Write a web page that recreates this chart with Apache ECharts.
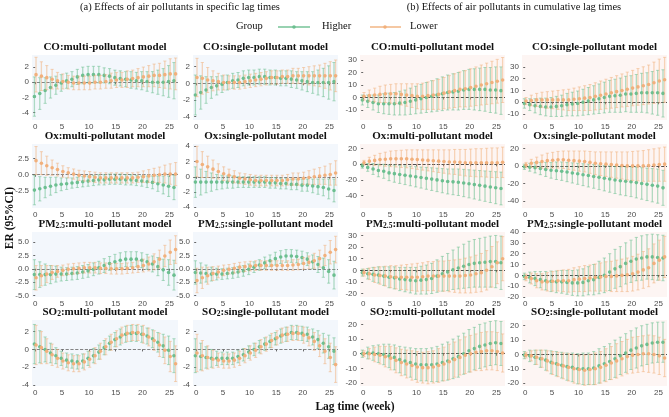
<!DOCTYPE html>
<html>
<head>
<meta charset="utf-8">
<script src="https://cdn.jsdelivr.net/npm/echarts@6/dist/echarts.min.js"></script>
<style>
  html, body { margin: 0; padding: 0; background: #fff; }
  #chart { width: 669px; height: 417px; }
</style>
</head>
<body>
<div id="chart"></div>
<script>
const lags = [0, 1, 2, 3, 4, 5, 6, 7, 8, 9, 10, 11, 12, 13, 14, 15, 16, 17, 18, 19, 20, 21, 22, 23, 24, 25, 26];
const groups = ['Higher', 'Lower'];

// ---- CO, specific lags ----
const coMultiSpecHigher    = [-1.9, -1.5, -1.1, -0.7, -0.4, -0.1, 0.2, 0.4, 0.7, 0.9, 1.0, 1.0, 1.0, 0.9, 0.8, 0.6, 0.5, 0.4, 0.3, 0.2, 0.2, 0.1, 0.0, 0.0, 0.0, 0.1, 0.2];
const coMultiSpecHigherErr = [2.6, 2.1, 1.7, 1.4, 1.2, 1.1, 1.0, 1.0, 1.0, 1.1, 1.1, 1.1, 1.1, 1.0, 1.0, 1.0, 1.0, 1.0, 1.1, 1.1, 1.2, 1.3, 1.4, 1.6, 1.8, 2.1, 2.4];
const coMultiSpecLower     = [1.0, 0.8, 0.6, 0.4, 0.2, 0.1, 0.0, -0.1, -0.1, -0.1, -0.1, 0.0, 0.0, 0.1, 0.2, 0.3, 0.3, 0.4, 0.5, 0.6, 0.7, 0.8, 0.9, 0.9, 1.0, 1.1, 1.1];
const coMultiSpecLowerErr  = [2.3, 1.9, 1.6, 1.3, 1.1, 1.0, 0.9, 0.9, 0.9, 0.9, 0.9, 0.9, 0.9, 0.9, 1.0, 1.0, 1.0, 1.1, 1.1, 1.2, 1.3, 1.4, 1.5, 1.6, 1.8, 2.0, 2.1];

const coSingleSpecHigher    = [-1.4, -1.1, -0.8, -0.5, -0.3, -0.1, 0.1, 0.3, 0.4, 0.6, 0.7, 0.7, 0.8, 0.8, 0.7, 0.7, 0.6, 0.6, 0.5, 0.4, 0.3, 0.2, 0.1, 0.1, 0.1, 0.1, 0.2];
const coSingleSpecHigherErr = [2.4, 2.0, 1.6, 1.3, 1.1, 1.0, 0.9, 0.9, 0.9, 0.9, 0.9, 0.9, 0.9, 0.9, 0.9, 0.9, 0.9, 0.9, 1.0, 1.0, 1.1, 1.2, 1.3, 1.5, 1.7, 2.0, 2.3];
const coSingleSpecLower     = [0.7, 0.6, 0.4, 0.3, 0.2, 0.1, 0.1, 0.1, 0.1, 0.2, 0.3, 0.4, 0.5, 0.6, 0.7, 0.7, 0.8, 0.8, 0.9, 0.9, 0.9, 0.9, 0.9, 0.9, 0.9, 0.9, 0.9];
const coSingleSpecLowerErr  = [2.3, 1.9, 1.5, 1.2, 1.0, 0.9, 0.8, 0.8, 0.8, 0.8, 0.8, 0.8, 0.8, 0.8, 0.8, 0.8, 0.8, 0.8, 0.9, 0.9, 1.0, 1.1, 1.2, 1.3, 1.5, 1.7, 1.9];

// ---- CO, cumulative lags ----
const coMultiCumHigher    = [-2, -3, -4, -5, -5, -5, -5, -4.5, -4, -3, -2, -1, 0, 1, 2, 3, 4, 4.5, 5, 6, 6.5, 6.5, 6.5, 6.5, 6, 6, 5.5];
const coMultiCumHigherErr = [4, 5, 6, 7, 8, 8.5, 9, 9.5, 10, 10.5, 11, 11.5, 12, 12.5, 13, 13.5, 14, 14.5, 15, 15.5, 16, 16.5, 17, 17.5, 18, 18.5, 19];
const coMultiCumLower     = [1, 1.5, 2, 2.5, 3, 3, 3, 2.5, 2, 1.5, 1, 1, 1.5, 2, 2.5, 3.5, 4.5, 5.5, 6.5, 7, 8, 9, 10, 11, 12, 13, 14];
const coMultiCumLowerErr  = [3, 4.5, 5.5, 6.5, 7, 7.5, 8, 8.5, 9, 9.5, 10, 10.5, 11, 11.5, 12, 12.5, 13, 13.5, 14, 14.5, 15, 15.5, 16, 16.5, 17, 17.5, 18];

const coSingleCumHigher    = [-1, -2, -3, -3.5, -4, -4, -3.5, -3, -2, -1.5, -1, 0, 1, 2, 3, 4, 5, 5.5, 6, 7, 7, 7.5, 8, 8, 8, 8, 7.5];
const coSingleCumHigherErr = [4, 5, 6, 7, 7.5, 8, 8.5, 9, 9.5, 10, 10.5, 11, 11.5, 12, 12.5, 13, 13.5, 14, 14.5, 15, 15.5, 16, 16.5, 17, 18, 19, 20];
const coSingleCumLower     = [1, 1.5, 2, 2, 2, 2, 2, 2, 2, 2.5, 3, 3.5, 4, 5, 6, 7, 8, 9, 10, 11, 12, 13, 14, 15, 16.5, 18, 19];
const coSingleCumLowerErr  = [3, 4.5, 5.5, 6.5, 7, 7.5, 8, 8.5, 9, 9.5, 10, 10.5, 11, 11.5, 12, 12.5, 13, 13.5, 14, 14.5, 15, 15.5, 16, 16.5, 17.5, 18.5, 19];

// ---- Ox, specific lags ----
const oxMultiSpecHigher    = [-2.4, -2.2, -2.0, -1.8, -1.6, -1.5, -1.4, -1.3, -1.2, -1.1, -1.0, -0.9, -0.8, -0.8, -0.7, -0.7, -0.7, -0.8, -0.8, -0.9, -1.0, -1.1, -1.2, -1.4, -1.6, -1.8, -2.0];
const oxMultiSpecHigherErr = [2.3, 1.9, 1.6, 1.4, 1.2, 1.0, 0.9, 0.8, 0.8, 0.8, 0.8, 0.8, 0.8, 0.8, 0.8, 0.8, 0.8, 0.8, 0.8, 0.8, 0.8, 0.9, 1.0, 1.2, 1.4, 1.6, 1.9];
const oxMultiSpecLower     = [2.2, 1.8, 1.4, 1.1, 0.8, 0.5, 0.3, 0.1, -0.1, -0.2, -0.3, -0.4, -0.5, -0.5, -0.5, -0.5, -0.5, -0.5, -0.5, -0.4, -0.3, -0.2, -0.1, 0.0, 0.1, 0.1, 0.1];
const oxMultiSpecLowerErr  = [2.2, 1.8, 1.5, 1.2, 1.0, 0.9, 0.8, 0.8, 0.8, 0.8, 0.8, 0.8, 0.8, 0.8, 0.8, 0.8, 0.8, 0.8, 0.8, 0.8, 0.9, 1.0, 1.1, 1.2, 1.4, 1.6, 1.8];

const oxSingleSpecHigher    = [-0.7, -0.7, -0.7, -0.7, -0.7, -0.7, -0.7, -0.7, -0.7, -0.7, -0.7, -0.7, -0.7, -0.7, -0.8, -0.8, -0.9, -0.9, -1.0, -1.0, -1.1, -1.1, -1.2, -1.3, -1.4, -1.6, -1.8];
const oxSingleSpecHigherErr = [2.0, 1.7, 1.4, 1.2, 1.0, 0.9, 0.8, 0.8, 0.7, 0.7, 0.7, 0.7, 0.7, 0.7, 0.7, 0.7, 0.7, 0.7, 0.7, 0.7, 0.8, 0.8, 0.9, 1.0, 1.1, 1.3, 1.5];
const oxSingleSpecLower     = [2.0, 1.6, 1.3, 1.0, 0.7, 0.4, 0.2, 0.0, -0.2, -0.3, -0.4, -0.5, -0.5, -0.5, -0.5, -0.5, -0.5, -0.4, -0.3, -0.3, -0.2, -0.1, 0.0, 0.1, 0.2, 0.3, 0.5];
const oxSingleSpecLowerErr  = [2.0, 1.7, 1.4, 1.2, 1.0, 0.9, 0.8, 0.8, 0.7, 0.7, 0.7, 0.7, 0.7, 0.7, 0.7, 0.7, 0.7, 0.7, 0.8, 0.8, 0.8, 0.9, 1.0, 1.1, 1.2, 1.4, 1.6];

// ---- Ox, cumulative lags ----
const oxMultiCumHigher    = [-2, -4, -6, -8, -9, -11, -12, -13, -14, -15, -16, -17, -18, -19, -20, -21, -22, -22.5, -23, -24, -25, -26, -27, -28, -29, -30, -31];
const oxMultiCumHigherErr = [3, 5, 7, 8, 9, 10, 11, 11.5, 12, 12.5, 13, 13.5, 14, 14.5, 15, 15.5, 16, 16.5, 17, 17.5, 18, 18.5, 19, 19.5, 20, 20.5, 21];
const oxMultiCumLower     = [2, 4, 5, 6, 6.5, 7, 7, 7, 7, 6.5, 6, 5.5, 5, 4.5, 4, 3.5, 3, 3, 2.5, 2, 2, 2, 2, 2, 2, 2, 2.5];
const oxMultiCumLowerErr  = [3, 5, 6.5, 8, 9, 10, 10.5, 11, 11.5, 12, 12.5, 13, 13.5, 14, 14.5, 15, 15.5, 16, 16.5, 17, 17.5, 18, 18, 18.5, 19, 19, 19.5];

const oxSingleCumHigher    = [-1, -1.5, -2, -3, -4, -5, -5.5, -6, -7, -8, -9, -10, -11, -12, -13, -14, -15, -16, -17, -17.5, -18, -19, -20, -21, -22, -23, -25];
const oxSingleCumHigherErr = [3, 4.5, 6, 7, 8, 9, 10, 10.5, 11, 11.5, 12, 12.5, 13, 13.5, 14, 14.5, 15, 15.5, 16, 16.5, 17, 17.5, 18, 18.5, 19, 19.5, 20];
const oxSingleCumLower     = [1, 3, 4, 5, 6, 6.5, 7, 7, 6.5, 6, 5.5, 5, 4, 3, 2.5, 2, 1.5, 1, 0.5, 0, 0, 0, 0, 0.5, 1, 1.5, 2];
const oxSingleCumLowerErr  = [3, 4.5, 6, 7.5, 8.5, 9, 9.5, 10, 10.5, 11, 11.5, 12, 12.5, 13, 13.5, 14, 14.5, 15, 15.5, 16, 16.5, 17, 17.5, 18, 18.5, 19, 19.5];

// ---- PM2.5, specific lags ----
const pmMultiSpecHigher    = [-1.1, -1.1, -1.1, -1.1, -1.0, -1.0, -1.0, -0.9, -0.8, -0.6, -0.4, -0.1, 0.2, 0.6, 1.0, 1.3, 1.6, 1.8, 1.8, 1.8, 1.6, 1.3, 0.9, 0.4, -0.2, -0.7, -1.2];
const pmMultiSpecHigherErr = [2.8, 2.4, 2.0, 1.7, 1.5, 1.3, 1.2, 1.2, 1.2, 1.2, 1.2, 1.2, 1.2, 1.3, 1.3, 1.4, 1.4, 1.4, 1.4, 1.4, 1.4, 1.4, 1.5, 1.7, 2.0, 2.4, 2.8];
const pmMultiSpecLower     = [-1.7, -1.3, -1.0, -0.7, -0.5, -0.3, -0.1, 0.0, 0.1, 0.2, 0.2, 0.2, 0.1, 0.1, 0.0, 0.0, 0.0, 0.1, 0.2, 0.4, 0.6, 0.9, 1.3, 1.8, 2.4, 3.1, 3.6];
const pmMultiSpecLowerErr  = [2.3, 1.9, 1.6, 1.3, 1.1, 1.0, 1.0, 1.0, 1.0, 1.0, 1.0, 1.0, 1.0, 1.0, 1.0, 1.0, 1.0, 1.0, 1.0, 1.1, 1.2, 1.3, 1.5, 1.7, 2.0, 2.3, 2.6];

const pmSingleSpecHigher    = [-0.7, -0.8, -0.9, -1.0, -1.0, -1.0, -0.9, -0.8, -0.6, -0.4, -0.1, 0.3, 0.7, 1.1, 1.5, 1.9, 2.2, 2.4, 2.4, 2.3, 2.1, 1.8, 1.3, 0.8, 0.2, -0.5, -1.2];
const pmSingleSpecHigherErr = [2.2, 1.9, 1.6, 1.3, 1.1, 1.0, 1.0, 1.0, 1.0, 1.0, 1.0, 1.0, 1.0, 1.1, 1.1, 1.2, 1.2, 1.2, 1.2, 1.2, 1.2, 1.2, 1.3, 1.5, 1.8, 2.2, 2.6];
const pmSingleSpecLower     = [-2.2, -1.7, -1.3, -0.9, -0.6, -0.3, -0.1, 0.1, 0.3, 0.4, 0.5, 0.6, 0.6, 0.6, 0.6, 0.6, 0.6, 0.6, 0.7, 0.8, 1.0, 1.2, 1.5, 1.9, 2.5, 3.1, 3.6];
const pmSingleSpecLowerErr  = [2.3, 2.0, 1.6, 1.3, 1.1, 1.0, 0.9, 0.9, 0.9, 0.9, 0.9, 0.9, 0.9, 0.9, 0.9, 0.9, 0.9, 0.9, 1.0, 1.0, 1.1, 1.2, 1.4, 1.6, 1.9, 2.2, 2.5];

// ---- PM2.5, cumulative lags ----
const pmMultiCumHigher    = [-2, -3, -3.5, -4, -5, -6, -6.5, -7.5, -8, -8.5, -9, -8.5, -8, -7, -5, -3, -1.5, 0.5, 2, 3.5, 5, 6, 6.5, 7, 7.5, 7.5, 6.5];
const pmMultiCumHigherErr = [3, 4.5, 6, 7, 8, 9, 9.5, 10, 10.5, 11, 11.5, 12, 12.5, 13, 14, 15, 16, 17, 18, 19, 20, 20.5, 21, 21.5, 22, 22.5, 23];
const pmMultiCumLower     = [-2, -3, -4, -4.5, -5, -5.5, -6, -6, -6, -6, -6, -5.5, -5, -5, -5, -5, -5, -5, -5, -4.5, -4, -3, -2, 0, 3, 6.5, 10];
const pmMultiCumLowerErr  = [3, 5, 6.5, 7.5, 8.5, 9.5, 10, 10.5, 11, 11.5, 12, 12, 12.5, 12.5, 13, 13, 13.5, 14, 14.5, 15, 15.5, 16, 16.5, 17, 17.5, 18, 19];

const pmSingleCumHigher    = [-1, -2, -3, -4, -5, -5.5, -6, -6, -6.5, -7, -7, -6.5, -5, -4, -2, 0, 3, 6, 8, 11, 13, 15, 16, 17, 17, 16.5, 16];
const pmSingleCumHigherErr = [3, 5, 6.5, 7.5, 8.5, 9.5, 10, 10.5, 11, 11.5, 12, 12.5, 13, 14, 15, 16, 17, 18, 18.5, 19, 19.5, 20, 20.5, 20.5, 21, 21, 21];
const pmSingleCumLower     = [-2, -3, -5, -6, -6, -5.5, -5, -5, -5, -4, -3.5, -3, -2.5, -2, -1.5, -1, -1, -0.5, 0, 0.5, 1.5, 3, 5, 7, 11, 14, 17];
const pmSingleCumLowerErr  = [3, 5, 6.5, 7.5, 8.5, 9, 9.5, 10, 10.5, 11, 11.5, 12, 12, 12.5, 13, 13.5, 14, 14.5, 15, 15.5, 16, 16.5, 17, 17.5, 18, 18.5, 19];

// ---- SO2, specific lags ----
const so2MultiSpecHigher    = [0.6, 0.3, 0.0, -0.4, -0.7, -1.0, -1.2, -1.3, -1.4, -1.3, -1.0, -0.7, -0.3, 0.2, 0.7, 1.1, 1.4, 1.7, 1.8, 1.8, 1.7, 1.5, 1.2, 0.8, 0.4, -0.1, -0.7];
const so2MultiSpecHigherErr = [2.2, 1.8, 1.4, 1.1, 0.9, 0.8, 0.8, 0.8, 0.8, 0.8, 0.8, 0.8, 0.8, 0.8, 0.8, 0.8, 0.9, 0.9, 0.9, 0.9, 0.9, 0.9, 1.0, 1.1, 1.3, 1.6, 1.9];
const so2MultiSpecLower     = [0.5, 0.2, -0.2, -0.6, -1.0, -1.3, -1.5, -1.6, -1.6, -1.4, -1.1, -0.7, -0.2, 0.3, 0.8, 1.2, 1.6, 1.8, 1.9, 1.9, 1.7, 1.4, 1.0, 0.5, -0.1, -0.8, -1.6];
const so2MultiSpecLowerErr  = [2.2, 1.8, 1.4, 1.2, 1.0, 0.9, 0.9, 0.9, 0.9, 0.9, 0.9, 0.9, 0.9, 0.9, 0.9, 0.9, 0.9, 0.9, 0.9, 0.9, 1.0, 1.0, 1.1, 1.3, 1.5, 1.7, 2.0];

const so2SingleSpecHigher    = [-0.7, -0.8, -0.9, -1.0, -1.0, -1.0, -1.0, -1.0, -0.8, -0.6, -0.3, 0.0, 0.3, 0.6, 0.9, 1.2, 1.5, 1.7, 1.9, 1.9, 1.8, 1.7, 1.4, 1.1, 0.7, 0.3, -0.2];
const so2SingleSpecHigherErr = [1.9, 1.5, 1.2, 1.0, 0.8, 0.7, 0.7, 0.7, 0.7, 0.7, 0.7, 0.7, 0.7, 0.7, 0.7, 0.7, 0.8, 0.8, 0.8, 0.8, 0.8, 0.8, 0.9, 1.0, 1.1, 1.3, 1.5];
const so2SingleSpecLower     = [-0.4, -0.7, -0.9, -1.1, -1.2, -1.3, -1.3, -1.2, -1.0, -0.7, -0.4, -0.1, 0.3, 0.6, 1.0, 1.3, 1.6, 1.7, 1.8, 1.8, 1.6, 1.3, 0.9, 0.4, -0.2, -0.9, -1.7];
const so2SingleSpecLowerErr  = [2.1, 1.7, 1.3, 1.0, 0.8, 0.8, 0.8, 0.8, 0.8, 0.8, 0.8, 0.8, 0.8, 0.8, 0.8, 0.8, 0.8, 0.8, 0.8, 0.8, 0.9, 0.9, 1.0, 1.2, 1.4, 1.6, 2.0];

// ---- SO2, cumulative lags ----
const so2MultiCumHigher    = [0, 0.5, 0.5, 0, -0.5, -1.5, -2.5, -4, -5, -6, -7, -7.5, -7.5, -7.5, -7, -6, -5, -3.5, -2, 0, 2, 3.5, 5, 6, 7, 7.5, 7];
const so2MultiCumHigherErr = [2.5, 4, 5, 6, 7, 8, 8.5, 9, 9.5, 10, 10.5, 11, 11, 11.5, 12, 12.5, 13, 13.5, 14, 14, 14.5, 14.5, 15, 15, 15, 15, 15];
const so2MultiCumLower     = [0, 0, -0.5, -1, -2, -3, -4.5, -6, -7, -8, -9, -9.5, -9.5, -9, -8, -7, -5.5, -4, -2.5, -1, 0, 1, 1.5, 2, 2, 1.5, 0.5];
const so2MultiCumLowerErr  = [2, 3.5, 5, 6, 7, 8, 8.5, 9, 9.5, 10, 10.5, 10.5, 11, 11, 11.5, 11.5, 12, 12, 12, 12.5, 12.5, 12.5, 13, 13, 13, 13, 13];

const so2SingleCumHigher    = [-0.5, -1, -2, -3, -4, -5.5, -6.5, -7.5, -8.5, -9, -10, -10, -10, -9.5, -8, -6.5, -5, -3, -1, 1, 3, 4.5, 6, 7, 8, 8.5, 8.5];
const so2SingleCumHigherErr = [2.5, 4, 5, 6, 7, 8, 8.5, 9, 9.5, 10, 10.5, 11, 11, 11.5, 12, 12, 12.5, 13, 13, 13.5, 13.5, 14, 14, 14, 14, 14, 14];
const so2SingleCumLower     = [-0.5, -1, -2, -3, -4.5, -6, -7, -8, -9, -10, -10.5, -11, -10.5, -10, -9, -7.5, -6, -4.5, -3, -1.5, -0.5, 0, 0.5, 0.5, 0, -1, -2.5];
const so2SingleCumLowerErr  = [2, 3.5, 5, 6, 7, 8, 8.5, 9, 9.5, 10, 10, 10.5, 10.5, 11, 11, 11.5, 11.5, 12, 12, 12, 12.5, 12.5, 12.5, 13, 13, 13, 13];

// tick labels
const xTicks = [0, 5, 10, 15, 20, 25];
const coSpecTicks = [-4, -2, 0, 2];
const coCumTicks = [-10, 0, 10, 20, 30];
const oxMultiSpecTicks = [-2.5, 0, 2.5];
const oxSingleSpecTicks = [-4, -2, 0, 2, 4];
const oxCumTicks = [-40, -20, 0, 20];
const pmSpecTicks = [-5, -2.5, 0, 2.5, 5];
const pmMultiCumTicks = [-20, -10, 0, 10, 20, 30];
const pmSingleCumTicks = [-20, -10, 0, 10, 20, 30, 40];
const so2SpecTicks = [-4, -2, 0, 2];
const so2CumTicks = [-20, -10, 0, 10, 20];

const panels = [
  { name: 'CO', model: 'multi', row: 0, col: 0, min: -5, max: 3.6, ticks: coSpecTicks, hi: coMultiSpecHigher, hiErr: coMultiSpecHigherErr, lo: coMultiSpecLower, loErr: coMultiSpecLowerErr },
  { name: 'CO', model: 'single', row: 0, col: 1, min: -4.4, max: 3.4, ticks: coSpecTicks, hi: coSingleSpecHigher, hiErr: coSingleSpecHigherErr, lo: coSingleSpecLower, loErr: coSingleSpecLowerErr },
  { name: 'CO', model: 'multi', row: 0, col: 2, min: -18, max: 34, ticks: coCumTicks, hi: coMultiCumHigher, hiErr: coMultiCumHigherErr, lo: coMultiCumLower, loErr: coMultiCumLowerErr },
  { name: 'CO', model: 'single', row: 0, col: 3, min: -15, max: 40, ticks: coCumTicks, hi: coSingleCumHigher, hiErr: coSingleCumHigherErr, lo: coSingleCumLower, loErr: coSingleCumLowerErr },
  { name: 'Ox', model: 'multi', row: 1, col: 0, min: -5.2, max: 4.8, ticks: oxMultiSpecTicks, dec: 1, hi: oxMultiSpecHigher, hiErr: oxMultiSpecHigherErr, lo: oxMultiSpecLower, loErr: oxMultiSpecLowerErr },
  { name: 'Ox', model: 'single', row: 1, col: 1, min: -4.1, max: 4.3, ticks: oxSingleSpecTicks, hi: oxSingleSpecHigher, hiErr: oxSingleSpecHigherErr, lo: oxSingleSpecLower, loErr: oxSingleSpecLowerErr },
  { name: 'Ox', model: 'multi', row: 1, col: 2, min: -56, max: 26, ticks: oxCumTicks, hi: oxMultiCumHigher, hiErr: oxMultiCumHigherErr, lo: oxMultiCumLower, loErr: oxMultiCumLowerErr },
  { name: 'Ox', model: 'single', row: 1, col: 3, min: -48, max: 25, ticks: oxCumTicks, hi: oxSingleCumHigher, hiErr: oxSingleCumHigherErr, lo: oxSingleCumLower, loErr: oxSingleCumLowerErr },
  { name: 'PM', model: 'multi', row: 2, col: 0, min: -5.3, max: 6.9, ticks: pmSpecTicks, dec: 1, hi: pmMultiSpecHigher, hiErr: pmMultiSpecHigherErr, lo: pmMultiSpecLower, loErr: pmMultiSpecLowerErr },
  { name: 'PM', model: 'single', row: 2, col: 1, min: -5.3, max: 6.9, ticks: pmSpecTicks, dec: 1, hi: pmSingleSpecHigher, hiErr: pmSingleSpecHigherErr, lo: pmSingleSpecLower, loErr: pmSingleSpecLowerErr },
  { name: 'PM', model: 'multi', row: 2, col: 2, min: -23, max: 33, ticks: pmMultiCumTicks, hi: pmMultiCumHigher, hiErr: pmMultiCumHigherErr, lo: pmMultiCumLower, loErr: pmMultiCumLowerErr },
  { name: 'PM', model: 'single', row: 2, col: 3, min: -20, max: 40, ticks: pmSingleCumTicks, hi: pmSingleCumHigher, hiErr: pmSingleCumHigherErr, lo: pmSingleCumLower, loErr: pmSingleCumLowerErr },
  { name: 'SO', model: 'multi', row: 3, col: 0, min: -4.1, max: 3.3, ticks: so2SpecTicks, hi: so2MultiSpecHigher, hiErr: so2MultiSpecHigherErr, lo: so2MultiSpecLower, loErr: so2MultiSpecLowerErr },
  { name: 'SO', model: 'single', row: 3, col: 1, min: -4.1, max: 3.3, ticks: so2SpecTicks, hi: so2SingleSpecHigher, hiErr: so2SingleSpecHigherErr, lo: so2SingleSpecLower, loErr: so2SingleSpecLowerErr },
  { name: 'SO', model: 'multi', row: 3, col: 2, min: -22, max: 23, ticks: so2CumTicks, hi: so2MultiCumHigher, hiErr: so2MultiCumHigherErr, lo: so2MultiCumLower, loErr: so2MultiCumLowerErr },
  { name: 'SO', model: 'single', row: 3, col: 3, min: -22, max: 24, ticks: so2CumTicks, hi: so2SingleCumHigher, hiErr: so2SingleCumHigherErr, lo: so2SingleCumLower, loErr: so2SingleCumLowerErr }
];

const cols = [{ l: 32, w: 146 }, { l: 193, w: 145 }, { l: 360, w: 145 }, { l: 522, w: 145 }];
const rows = [{ t: 55, h: 65 }, { t: 144, h: 64 }, { t: 232, h: 65 }, { t: 320, h: 66 }];

const serif = '"Liberation Serif", "DejaVu Serif", serif';
const sans = '"Liberation Sans", Arial, sans-serif';
const green = { bar: 'rgba(102,190,140,0.5)', pt: '#6cbf90' };
const orange = { bar: 'rgba(242,176,122,0.5)', pt: '#f1b07c' };

function titleText(p) {
  const rest = ':' + p.model + '-pollutant model';
  if (p.name === 'PM') return '{m|PM}{s|2.5}{m|' + rest + '}';
  if (p.name === 'SO') return '{m|SO}{s|2}{m|' + rest + '}';
  return '{m|' + p.name + rest + '}';
}

function errorBars(col, dodge) {
  return function (params, api) {
    const x = api.value(0) + dodge;
    const est = api.value(1), err = api.value(2);
    const top = api.coord([x, est + err]);
    const bot = api.coord([x, est - err]);
    const mid = api.coord([x, est]);
    const cw = 1.6;
    return {
      type: 'group',
      children: [
        { type: 'line', shape: { x1: top[0], y1: top[1], x2: bot[0], y2: bot[1] }, style: { stroke: col.bar, lineWidth: 1.3 } },
        { type: 'line', shape: { x1: top[0] - cw, y1: top[1], x2: top[0] + cw, y2: top[1] }, style: { stroke: col.bar, lineWidth: 1 } },
        { type: 'line', shape: { x1: bot[0] - cw, y1: bot[1], x2: bot[0] + cw, y2: bot[1] }, style: { stroke: col.bar, lineWidth: 1 } },
        { type: 'circle', shape: { cx: mid[0], cy: mid[1], r: 1.8 }, style: { fill: col.pt } }
      ]
    };
  };
}

const grid = [], xAxis = [], yAxis = [], series = [], title = [];
panels.forEach(function (p, i) {
  const c = cols[p.col], r = rows[p.row];
  const spec = p.col < 2;
  grid.push({ left: c.l, top: r.t, width: c.w, height: r.h, show: true, borderWidth: 0, backgroundColor: spec ? '#f3f7fc' : '#fdf5f3' });
  xAxis.push({
    type: 'value', gridIndex: i, min: -0.6, max: 26.6,
    axisLine: { show: false },
    axisTick: { show: true, length: 2, lineStyle: { color: '#444', width: 0.8 }, customValues: xTicks },
    axisLabel: { fontSize: 8, color: '#4d4d4d', margin: 3, fontFamily: sans, customValues: xTicks },
    splitLine: { show: false }
  });
  yAxis.push({
    type: 'value', gridIndex: i, min: p.min, max: p.max,
    axisLine: { show: false },
    axisTick: { show: true, length: 2, lineStyle: { color: '#444', width: 0.8 }, customValues: p.ticks },
    axisLabel: {
      fontSize: 8, color: '#4d4d4d', margin: 3, fontFamily: sans, customValues: p.ticks,
      formatter: function (v) { return p.dec ? v.toFixed(1) : String(v); }
    },
    splitLine: { show: false }
  });
  title.push({
    text: titleText(p), left: c.l + c.w / 2, top: r.t - 16, textAlign: 'center', padding: 0,
    textStyle: {
      rich: {
        m: { fontFamily: serif, fontSize: 11, color: '#111', fontWeight: 'bold', lineHeight: 14, verticalAlign: 'bottom' },
        s: { fontFamily: serif, fontSize: 7.5, color: '#111', fontWeight: 'bold', lineHeight: 11, verticalAlign: 'bottom' }
      }
    }
  });
  [[p.hi, p.hiErr, green, -0.15, 'Higher'], [p.lo, p.loErr, orange, 0.15, 'Lower']].forEach(function (s, k) {
    series.push({
      type: 'custom', name: s[4], xAxisIndex: i, yAxisIndex: i, z: 3 + k,
      renderItem: errorBars(s[2], s[3]),
      data: lags.map(function (l, j) { return [l, s[0][j], s[1][j]]; }),
      markLine: k === 0 ? {
        silent: true, symbol: 'none', label: { show: false }, z: 2,
        lineStyle: { type: 'dashed', color: spec ? '#666' : '#222', width: 0.8 },
        data: [{ yAxis: 0 }]
      } : undefined
    });
  });
});

title.push({ text: '(a) Effects of air pollutants in specific lag times', left: 180, top: 2, textAlign: 'center', padding: 0, textStyle: { fontFamily: serif, fontSize: 10.5, fontWeight: 'normal', color: '#111' } });
title.push({ text: '(b) Effects of air pollutants in cumulative lag times', left: 514, top: 2, textAlign: 'center', padding: 0, textStyle: { fontFamily: serif, fontSize: 10.5, fontWeight: 'normal', color: '#111' } });

const legendY = 27;
const graphic = [
  { type: 'text', left: 236, top: legendY - 6, style: { text: 'Group', font: '10.5px ' + serif, fill: '#111' } },
  { type: 'line', shape: { x1: 278, y1: legendY, x2: 310, y2: legendY }, style: { stroke: green.pt, lineWidth: 1.4 } },
  { type: 'circle', shape: { cx: 294, cy: legendY, r: 1.8 }, style: { fill: green.pt } },
  { type: 'text', left: 322, top: legendY - 6, style: { text: groups[0], font: '10.5px ' + serif, fill: '#111' } },
  { type: 'line', shape: { x1: 370, y1: legendY, x2: 401, y2: legendY }, style: { stroke: orange.pt, lineWidth: 1.4 } },
  { type: 'circle', shape: { cx: 385, cy: legendY, r: 1.8 }, style: { fill: orange.pt } },
  { type: 'text', left: 410, top: legendY - 6, style: { text: groups[1], font: '10.5px ' + serif, fill: '#111' } },
  { type: 'text', x: 10, y: 218, rotation: Math.PI / 2, style: { text: 'ER (95%CI)', font: 'bold 11.5px ' + serif, fill: '#111', textAlign: 'center', textVerticalAlign: 'middle' } },
  { type: 'text', x: 355, y: 407, style: { text: 'Lag time (week)', font: 'bold 11.5px ' + serif, fill: '#111', textAlign: 'center', textVerticalAlign: 'middle' } }
];

const chart = echarts.init(document.getElementById('chart'), null, { renderer: 'canvas' });
chart.setOption({
  animation: false,
  title: title,
  grid: grid,
  xAxis: xAxis,
  yAxis: yAxis,
  series: series,
  graphic: graphic
});
</script>
</body>
</html>
